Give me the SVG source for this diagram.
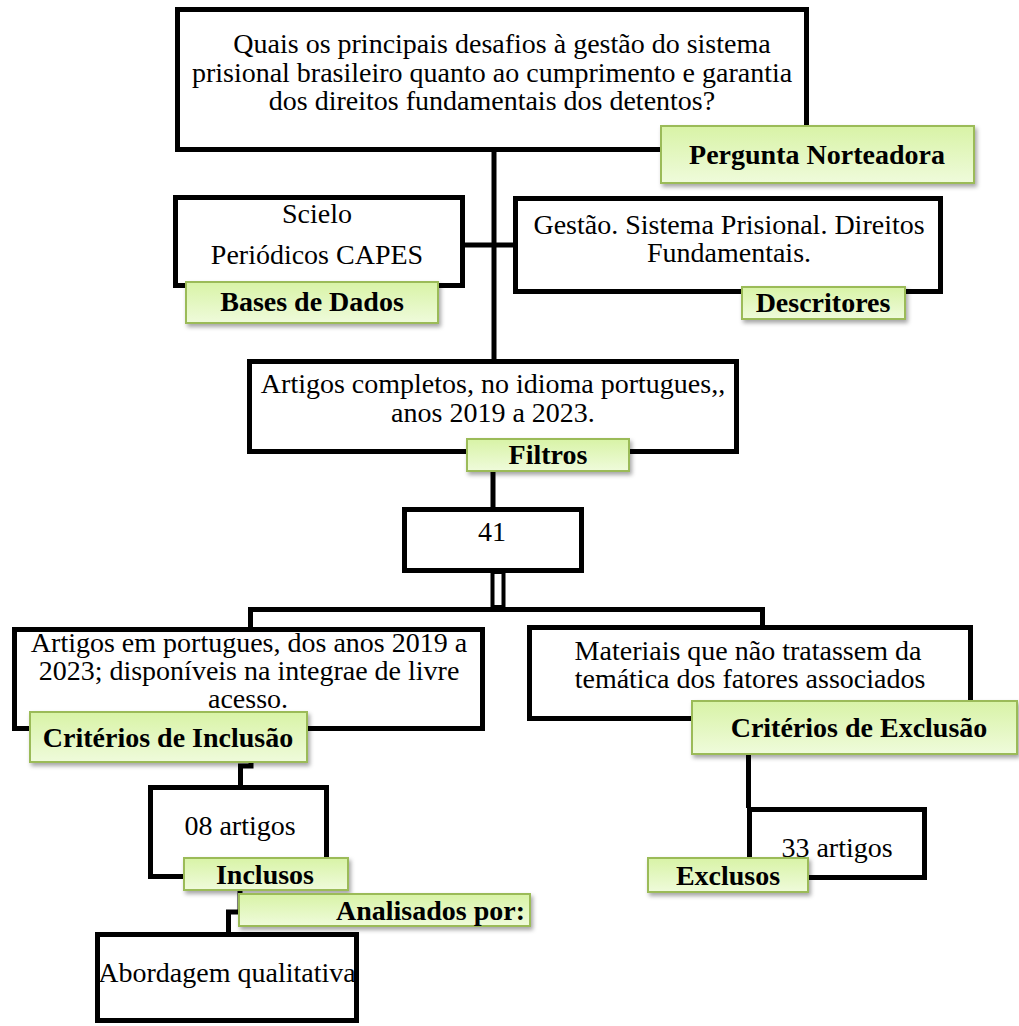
<svg xmlns="http://www.w3.org/2000/svg" width="1019" height="1026" viewBox="0 0 1019 1026">
<defs>
<linearGradient id="lg" x1="0" y1="0" x2="0" y2="1">
<stop offset="0" stop-color="#d8f3a6"/>
<stop offset="1" stop-color="#effbdb"/>
</linearGradient>
<filter id="sh" x="-10%" y="-30%" width="120%" height="170%">
<feDropShadow dx="2" dy="3" stdDeviation="2" flood-color="#000" flood-opacity="0.35"/>
</filter>
<style>
.box{fill:#fff;stroke:#000;stroke-width:5}
.lbl{fill:url(#lg);stroke:#9bbb59;stroke-width:2;filter:url(#sh)}
.ln{fill:none;stroke:#000;stroke-width:5}
.t{font-family:"Liberation Serif","Times New Roman",serif;font-size:28px;fill:#000;text-anchor:middle}
.b{font-family:"Liberation Serif","Times New Roman",serif;font-size:28px;font-weight:bold;fill:#000;text-anchor:middle}
</style>
</defs>
<rect width="1019" height="1026" fill="#fff"/>
<g id="connectors">
<line class="ln" x1="494" y1="152" x2="494" y2="361"/>
<line class="ln" x1="463" y1="245" x2="515" y2="245"/>
<line class="ln" x1="493" y1="470" x2="493" y2="508"/>
<rect x="492.5" y="572" width="11" height="35" fill="none" stroke="#000" stroke-width="4"/>
<path class="ln" d="M250.5,628 V609.5 H762.5 V626"/>
<path class="ln" d="M251,760 V766 H240.5 V786"/>
<line class="ln" x1="748.5" y1="752" x2="748.5" y2="808"/>
<path class="ln" d="M240,888 V912 H228.5 V933"/>
</g>
<g id="n-question">
<rect class="box" x="177.5" y="9.5" width="629" height="140"/>
<text class="t" x="502" y="53">Quais os principais desafios à gestão do sistema</text>
<text class="t" x="492" y="82">prisional brasileiro quanto ao cumprimento e garantia</text>
<text class="t" x="492" y="110">dos direitos fundamentais dos detentos?</text>
</g>
<g id="l-pergunta">
<rect class="lbl" x="661" y="126" width="313" height="57"/>
<text class="b" x="817" y="164">Pergunta Norteadora</text>
</g>
<g id="n-bases">
<rect class="box" x="175.5" y="197.5" width="287" height="88"/>
<text class="t" x="317" y="223">Scielo</text>
<text class="t" x="317" y="264">Periódicos CAPES</text>
</g>
<g id="l-bases">
<rect class="lbl" x="186" y="282" width="252" height="41"/>
<text class="b" x="312" y="311">Bases de Dados</text>
</g>
<g id="n-descritores">
<rect class="box" x="515.5" y="198.5" width="425" height="93"/>
<text class="t" x="729" y="234">Gestão. Sistema Prisional. Direitos</text>
<text class="t" x="729" y="262">Fundamentais.</text>
</g>
<g id="l-descritores">
<rect class="lbl" x="742" y="287" width="163" height="32"/>
<text class="b" x="823" y="312">Descritores</text>
</g>
<g id="n-filtros">
<rect class="box" x="249.5" y="361.5" width="487" height="90"/>
<text class="t" x="493" y="393">Artigos completos, no idioma portugues,,</text>
<text class="t" x="493" y="422">anos 2019 a 2023.</text>
</g>
<g id="l-filtros">
<rect class="lbl" x="467" y="439" width="162" height="32"/>
<text class="b" x="548" y="464">Filtros</text>
</g>
<g id="n-41">
<rect class="box" x="404.5" y="509.5" width="177" height="61"/>
<text class="t" x="492" y="541">41</text>
</g>
<g id="n-inclusao">
<rect class="box" x="14.5" y="629.5" width="468" height="99"/>
<text class="t" x="249" y="652">Artigos em portugues, dos anos 2019 a</text>
<text class="t" x="249" y="680">2023; disponíveis na integrae de livre</text>
<text class="t" x="248" y="708">acesso.</text>
</g>
<g id="l-inclusao">
<rect class="lbl" x="30" y="712" width="277" height="50"/>
<text class="b" x="168" y="747">Critérios de Inclusão</text>
</g>
<g id="n-exclusao">
<rect class="box" x="529.5" y="627.5" width="441" height="91"/>
<text class="t" x="748" y="660">Materiais que não tratassem da</text>
<text class="t" x="750" y="688">temática dos fatores associados</text>
</g>
<g id="l-exclusao">
<rect class="lbl" x="692" y="701" width="325" height="53"/>
<text class="b" x="859" y="737">Critérios de Exclusão</text>
</g>
<g id="n-08">
<rect class="box" x="150.5" y="787.5" width="176" height="89"/>
<text class="t" x="240" y="835">08 artigos</text>
</g>
<g id="l-inclusos">
<rect class="lbl" x="184" y="858" width="164" height="32"/>
<text class="b" x="265" y="884">Inclusos</text>
</g>
<g id="l-analisados">
<rect class="lbl" x="239" y="894" width="291" height="32"/>
<text class="b" x="525" y="920" style="text-anchor:end">Analisados por:</text>
</g>
<g id="n-33">
<rect class="box" x="749.5" y="809.5" width="175" height="68"/>
<text class="t" x="837" y="857">33 artigos</text>
</g>
<g id="l-exclusos">
<rect class="lbl" x="648" y="858" width="160" height="34"/>
<text class="b" x="728" y="885">Exclusos</text>
</g>
<g id="n-abordagem">
<rect class="box" x="97.5" y="934.5" width="259" height="86"/>
<text class="t" x="227" y="982">Abordagem qualitativa</text>
</g>
</svg>
